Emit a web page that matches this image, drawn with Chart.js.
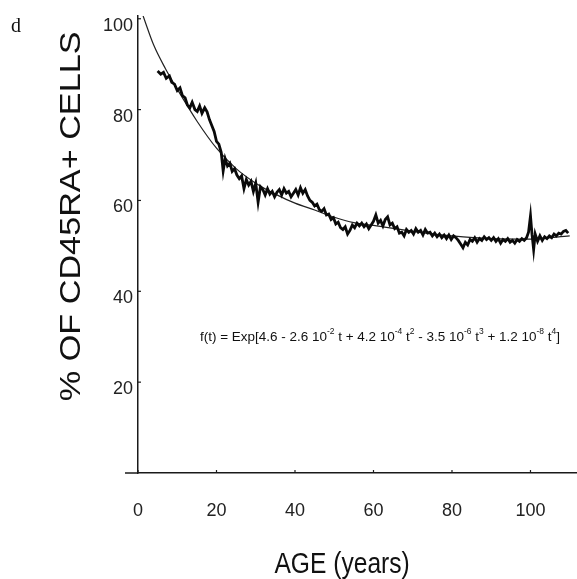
<!DOCTYPE html>
<html>
<head>
<meta charset="utf-8">
<script src="https://cdn.jsdelivr.net/npm/chart.js@4/dist/chart.umd.min.js"></script>
<style>
html,body{margin:0;padding:0;background:#fff;}
#wrap{position:relative;width:577px;height:579px;}
</style>
</head>
<body>
<div id="wrap"><canvas id="c" width="577" height="579"></canvas></div>
<script>
// ---- data ----
const xTicks = [0, 20, 40, 60, 80, 100];
const yTicks = [20, 40, 60, 80, 100];

const measAge = [5.0,5.8,6.5,7.2,8.0,8.6,9.3,10.0,10.7,11.3,12.0,12.6,13.2,13.8,14.5,15.1,15.7,16.3,17.0,17.6,18.2,18.8,19.4,20.0,20.6,21.2,21.7,22.2,22.8,23.4,24.0,24.6,25.2,25.8,26.4,27.0,27.6,28.2,28.8,29.4,30.0,30.6,31.2,31.8,32.4,33.0,33.6,34.2,34.8,35.4,36.0,36.6,37.2,37.8,38.4,39.0,39.6,40.2,40.8,41.4,42.0,42.6,43.2,43.8,44.4,45.0,45.6,46.2,46.8,47.4,48.0,48.6,49.2,49.8,50.4,51.0,51.6,52.2,52.8,53.4,54.0,54.6,55.2,55.8,56.4,57.0,57.6,58.2,58.8,59.4,60.0,60.6,61.2,61.8,62.4,63.0,63.6,64.2,64.8,65.4,66.0,66.6,67.2,67.8,68.4,69.0,69.6,70.2,70.8,71.4,72.0,72.6,73.2,73.8,74.4,75.0,75.6,76.2,76.8,77.4,78.0,78.6,79.2,79.8,80.4,81.0,81.6,82.2,82.8,83.4,84.0,84.6,85.2,85.8,86.4,87.0,87.6,88.2,88.8,89.4,90.0,90.6,91.2,91.8,92.4,93.0,93.6,94.2,94.8,95.4,96.0,96.6,97.2,97.8,98.4,99.0,99.5,100.0,100.4,100.8,101.2,101.8,102.4,103.0,103.6,104.2,104.8,105.4,106.0,106.6,107.2,107.8,108.4,109.0,109.6];
const measPct = [88.5,87.8,88.2,86.9,87.4,86.0,85.6,84.2,84.8,83.1,82.6,81.0,80.4,81.6,80.0,79.6,80.8,79.2,80.4,79.5,77.8,76.5,75.2,73.0,72.4,70.6,66.5,69.2,67.6,68.2,66.4,67.0,65.6,64.8,65.4,62.6,64.6,63.4,64.2,62.0,63.8,59.6,63.0,62.4,61.2,62.6,61.4,62.0,60.8,61.8,62.4,61.2,62.6,61.6,62.0,60.8,61.6,62.4,61.2,62.8,61.6,62.4,61.0,60.0,59.6,58.8,59.2,58.0,57.6,58.2,56.8,57.0,55.8,56.2,54.8,55.2,54.0,53.6,54.2,52.6,53.4,54.6,54.0,55.0,54.4,55.0,54.2,54.8,53.8,54.6,55.4,56.8,55.0,55.6,54.4,55.8,56.4,54.6,55.0,53.8,54.2,52.8,53.0,52.2,53.6,53.0,53.4,52.6,53.8,53.0,53.4,52.4,53.6,52.8,53.0,52.2,52.8,52.0,52.6,51.8,52.4,51.6,52.4,51.4,52.2,51.8,51.2,50.4,49.6,50.8,50.2,51.4,51.0,51.8,50.8,51.6,51.2,52.0,51.4,51.8,51.2,51.8,51.0,51.6,50.6,51.4,51.0,51.6,50.8,51.2,50.6,51.4,51.0,51.6,51.2,51.8,53.0,56.6,52.4,49.2,52.6,51.0,52.2,51.2,52.0,51.6,52.2,51.8,52.6,52.2,52.8,52.6,53.2,53.4,52.8];

const fitAge = [1.3, 4, 7, 10, 15, 20, 25, 30, 35, 40, 45, 50, 55, 60, 70, 80, 90, 100, 110];
const fitPct = [100.6, 94.2, 89.0, 84.5, 77.5, 71.5, 67.0, 63.8, 61.4, 59.4, 57.9, 56.3, 55.1, 54.5, 53.2, 52.2, 51.6, 51.5, 52.2];

const xTitle = 'AGE (years)';
const yTitle = '% OF CD45RA+ CELLS';
const panelLabel = 'd';
const formulaParts = [
  ['f(t) = Exp[4.6 - 2.6 10', false], ['-2', true], [' t + 4.2 10', false], ['-4', true],
  [' t', false], ['2', true], [' - 3.5 10', false], ['-6', true], [' t', false], ['3', true],
  [' + 1.2 10', false], ['-8', true], [' t', false], ['4', true], [']', false]
];

const SANS = '"Liberation Sans", Arial, sans-serif';

const decor = {
  id: 'decor',
  afterDraw(chart) {
    const ctx = chart.ctx;
    const ca = chart.chartArea;
    const xs = chart.scales.x, ys = chart.scales.y;
    ctx.save();
    ctx.strokeStyle = '#1a1a1a';
    ctx.lineWidth = 1.5;
    // x axis extension to the left of the y axis
    ctx.beginPath();
    ctx.moveTo(ca.left - 13, ca.bottom);
    ctx.lineTo(ca.left, ca.bottom);
    ctx.stroke();
    // small inward tick marks
    ctx.lineWidth = 1.2;
    yTicks.forEach(v => {
      const p = ys.getPixelForValue(v);
      ctx.beginPath(); ctx.moveTo(ca.left, p); ctx.lineTo(ca.left + 3, p); ctx.stroke();
    });
    xTicks.forEach(v => {
      const p = xs.getPixelForValue(v);
      ctx.beginPath(); ctx.moveTo(p, ca.bottom); ctx.lineTo(p, ca.bottom - 3); ctx.stroke();
    });
    ctx.fillStyle = '#111';
    // y title (rotated, stretched along text)
    ctx.save();
    ctx.translate(ca.left - 66, ys.getPixelForValue(56.5));
    ctx.rotate(-Math.PI / 2);
    ctx.scale(1.14, 1);
    ctx.font = '30px ' + SANS;
    ctx.textAlign = 'center';
    ctx.textBaseline = 'middle';
    ctx.fillText(yTitle, 0, 0);
    ctx.restore();
    // x title (narrowed)
    ctx.save();
    ctx.translate(xs.getPixelForValue(52), ca.bottom + 100);
    ctx.scale(0.82, 1);
    ctx.font = '30px ' + SANS;
    ctx.textAlign = 'center';
    ctx.textBaseline = 'alphabetic';
    ctx.fillText(xTitle, 0, 0);
    ctx.restore();
    // panel label
    ctx.font = '20px "Liberation Serif", serif';
    ctx.textAlign = 'left';
    ctx.fillText(panelLabel, 11, 32);
    // formula
    const mainFont = '13.5px ' + SANS, supFont = '8.5px ' + SANS;
    let total = 0;
    formulaParts.forEach(([t, s]) => { ctx.font = s ? supFont : mainFont; total += ctx.measureText(t).width; });
    const fx = xs.getPixelForValue(15.8), fy = ys.getPixelForValue(29);
    const sc = 360 / total;
    ctx.save();
    ctx.translate(fx, fy);
    ctx.scale(sc, 1);
    let cx = 0;
    formulaParts.forEach(([t, s]) => {
      ctx.font = s ? supFont : mainFont;
      ctx.fillText(t, cx, s ? -7 : 0);
      cx += ctx.measureText(t).width;
    });
    ctx.restore();
    ctx.restore();
  }
};

new Chart(document.getElementById('c'), {
  type: 'line',
  data: {
    datasets: [
      {
        label: 'measured',
        data: measAge.map((a, i) => ({ x: a, y: measPct[i] })),
        borderColor: '#0a0a0a',
        borderWidth: 2.8,
        pointRadius: 0,
        tension: 0
      },
      {
        label: 'fit',
        data: fitAge.map((a, i) => ({ x: a, y: fitPct[i] })),
        borderColor: '#222',
        borderWidth: 1.2,
        pointRadius: 0,
        cubicInterpolationMode: 'monotone'
      }
    ]
  },
  options: {
    responsive: false,
    animation: false,
    layout: { padding: { top: 10, right: 0, left: 0, bottom: 0 } },
    plugins: { legend: { display: false }, tooltip: { enabled: false } },
    scales: {
      x: {
        type: 'linear',
        min: 0,
        max: 111.85,
        afterBuildTicks: s => { s.ticks = xTicks.map(v => ({ value: v })); },
        afterFit: s => { s.height = 106; },
        grid: { display: false, drawTicks: false },
        border: { display: true, color: '#1a1a1a', width: 1.5 },
        ticks: { padding: 27, color: '#222', font: { family: SANS, size: 18 }, maxRotation: 0 }
      },
      y: {
        type: 'linear',
        min: 0,
        max: 100.65,
        afterBuildTicks: s => { s.ticks = yTicks.map(v => ({ value: v })); },
        afterFit: s => { s.width = 138; },
        grid: { display: false, drawTicks: false },
        border: { display: true, color: '#1a1a1a', width: 1.5 },
        ticks: { padding: 5, labelOffset: 7, color: '#222', font: { family: SANS, size: 18 } }
      }
    }
  },
  plugins: [decor]
});
</script>
</body>
</html>
